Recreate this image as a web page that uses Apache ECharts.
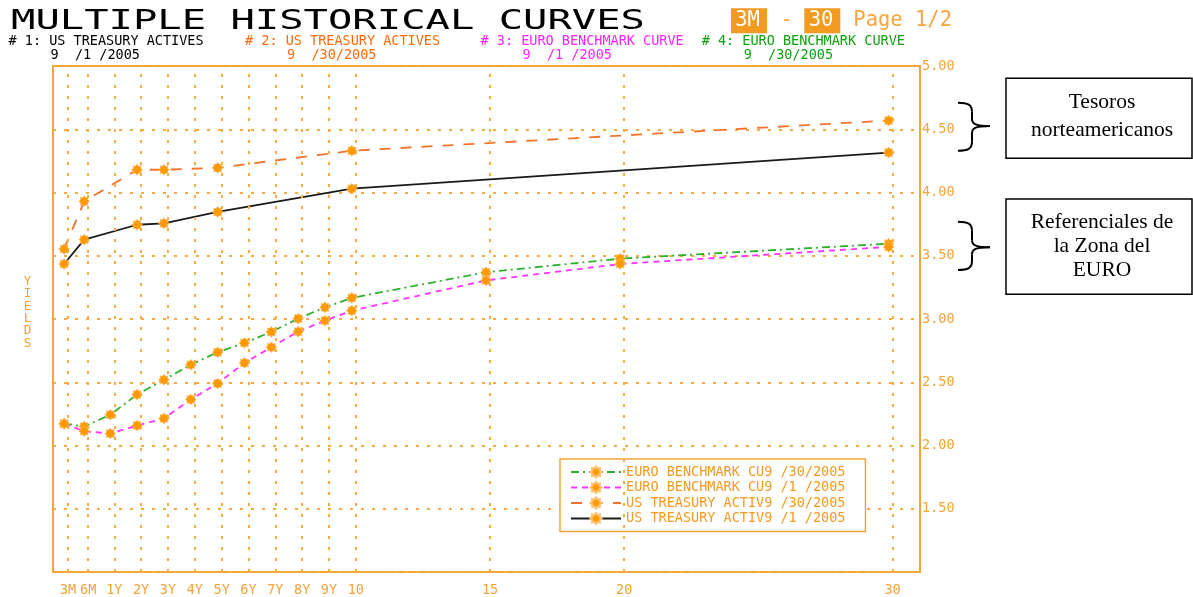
<!DOCTYPE html>
<html>
<head>
<meta charset="utf-8">
<script src="https://cdn.jsdelivr.net/npm/echarts@6/dist/echarts.min.js"></script>
<style>
html,body{margin:0;padding:0;background:#fff;}
#chart{width:1193px;height:597px;}
</style>
</head>
<body>
<div id="chart"></div>
<script>
// ---- data ----
const tenorLabels = ['3M','6M','1Y','2Y','3Y','4Y','5Y','6Y','7Y','8Y','9Y','10','15','20','30'];
const tenorPos    = [-0.72, 0.03, 1, 2, 3, 4, 5, 6, 7, 8, 9, 10, 15, 20, 30];
const usTsy0901   = [3.435, 3.627, null, 3.745, 3.756, null, 3.846, null, null, null, null, 4.03, null, null, 4.316];
const usTsy0930   = [3.553, 3.93, null, 4.18, 4.18, null, 4.195, null, null, null, null, 4.33, null, null, 4.569];
const euro0901    = [2.17, 2.113, 2.095, 2.158, 2.214, 2.364, 2.49, 2.653, 2.777, 2.90, 2.987, 3.066, 3.305, 3.435, 3.57];
const euro0930    = [2.174, 2.15, 2.243, 2.403, 2.52, 2.638, 2.737, 2.811, 2.898, 3.003, 3.092, 3.167, 3.37, 3.477, 3.595];
const seriesNames = ['EURO BENCHMARK CU9 /30/2005','EURO BENCHMARK CU9 /1 /2005','US TREASURY ACTIV9 /30/2005','US TREASURY ACTIV9 /1 /2005'];
const headerLabels = ['# 1: US TREASURY ACTIVES','# 2: US TREASURY ACTIVES','# 3: EURO BENCHMARK CURVE','# 4: EURO BENCHMARK CURVE'];
const headerDates  = ['9  /1 /2005','9  /30/2005','9  /1 /2005','9  /30/2005'];

// ---- styling ----
const MONO = '"DejaVu Sans Mono", monospace';
const ORANGE = '#f5a33a';
const GRIDC = '#f7ab45';
const headerColors = ['#000000','#ff6a10','#ff22ff','#10a010'];
const headerX = [8.5, 245, 480.5, 701.7];

function starPath(n, r1, r2){
  let d='';
  for(let i=0;i<2*n;i++){
    const a=Math.PI*i/n, r=(i%2)?r2:r1;
    d+=(i?'L':'M')+(50+50*r*Math.sin(a)).toFixed(1)+' '+(50-50*r*Math.cos(a)).toFixed(1)+' ';
  }
  return 'path://'+d+'Z';
}
const STAR = starPath(8, 1, 0.7);

function pairs(vals){
  return tenorPos.map((x,i)=> vals[i]==null ? null : [x, vals[i]]).filter(Boolean);
}

function brace(top, mid, bottom){
  const L=958, S=972, T=990, st={stroke:'#000', lineWidth:2, fill:'none'};
  return [
    {type:'bezierCurve', shape:{x1:L,y1:top,cpx1:L+10,cpy1:top,cpx2:S,cpy2:top+2,x2:S,y2:top+9}, style:st},
    {type:'line', shape:{x1:S,y1:top+9,x2:S,y2:mid-7}, style:st},
    {type:'bezierCurve', shape:{x1:S,y1:mid-7,cpx1:S,cpy1:mid-2,cpx2:S+4,cpy2:mid,x2:T,y2:mid}, style:st},
    {type:'bezierCurve', shape:{x1:T,y1:mid,cpx1:S+4,cpy1:mid,cpx2:S,cpy2:mid+2,x2:S,y2:mid+7}, style:st},
    {type:'line', shape:{x1:S,y1:mid+7,x2:S,y2:bottom-9}, style:st},
    {type:'bezierCurve', shape:{x1:S,y1:bottom-9,cpx1:S,cpy1:bottom-2,cpx2:L+10,cpy2:bottom,x2:L,y2:bottom}, style:st}
  ];
}

const graphics = [];
graphics.push({type:'text', x:11, y:22, scaleX:1.5, style:{text:'MULTIPLE HISTORICAL CURVES', font:'27px '+MONO, fill:'#000', verticalAlign:'middle'}});
headerLabels.forEach((t,i)=>{
  graphics.push({type:'text', x:headerX[i], y:41, style:{text:t, font:'13.5px '+MONO, fill:headerColors[i], verticalAlign:'middle'}});
  graphics.push({type:'text', x:headerX[i]+42, y:55.5, style:{text:headerDates[i], font:'13.5px '+MONO, fill:headerColors[i], verticalAlign:'middle'}});
});
graphics.push({type:'rect', shape:{x:731, y:8.3, width:36, height:25}, style:{fill:'#f39a21'}});
graphics.push({type:'text', x:747.5, y:21, style:{text:'3M', font:'20.5px '+MONO, fill:'#fff', align:'center', verticalAlign:'middle'}});
graphics.push({type:'text', x:786.7, y:21, style:{text:'-', font:'20.5px '+MONO, fill:'#f7a53e', align:'center', verticalAlign:'middle'}});
graphics.push({type:'rect', shape:{x:804.3, y:8.3, width:36, height:25}, style:{fill:'#f39a21'}});
graphics.push({type:'text', x:821, y:21, style:{text:'30', font:'20.5px '+MONO, fill:'#fff', align:'center', verticalAlign:'middle'}});
graphics.push({type:'text', x:853.3, y:21, style:{text:'Page 1/2', font:'20.5px '+MONO, fill:'#f7a53e', verticalAlign:'middle'}});
graphics.push({type:'text', x:27.5, y:312.5, style:{text:'Y\nI\nE\nL\nD\nS', font:'12.7px '+MONO, lineHeight:12.4, fill:ORANGE, align:'center', verticalAlign:'middle'}});
// annotations
graphics.push({type:'rect', shape:{x:1006, y:78.3, width:186, height:80}, style:{fill:'none', stroke:'#000', lineWidth:1.5}});
graphics.push({type:'rect', shape:{x:1006, y:199, width:186, height:95.3}, style:{fill:'none', stroke:'#000', lineWidth:1.5}});
[['Tesoros',109.3],['norteamericanos',136.7],['Referenciales de',229],['la Zona del',253.3],['EURO',276.7]].forEach(p=>{
  graphics.push({type:'text', x:1102, y:p[1]-6.5, style:{text:p[0], font:'21.5px "Liberation Serif"', fill:'#000', align:'center', verticalAlign:'middle'}});
});
brace(102.7,126,150.7).forEach(g=>graphics.push(g));
brace(221.7,247.3,270).forEach(g=>graphics.push(g));

const XMIN=-1.283, XMAX=31.02, SHIFT=0.15;

const chart = echarts.init(document.getElementById('chart'), null, {renderer:'canvas'});
chart.setOption({
  animation:false,
  backgroundColor:'#fff',
  grid:{left:53, right:273, top:66, bottom:24, show:true, borderColor:ORANGE, borderWidth:2, backgroundColor:'transparent'},
  xAxis:[{
    type:'value', min:XMIN, max:XMAX,
    axisLine:{show:false}, axisTick:{show:false}, splitLine:{show:false},
    axisLabel:{customValues:tenorPos, color:ORANGE, fontFamily:MONO, fontSize:13.5, margin:11,
      formatter:(v)=>{const i=tenorPos.indexOf(v); return i>=0?tenorLabels[i]:'';}}
  },{
    type:'value', min:XMIN+SHIFT, max:XMAX+SHIFT, show:false
  }],
  yAxis:{
    type:'value', position:'right', min:1, max:5, interval:0.5,
    axisLine:{show:false}, axisTick:{show:false},
    axisLabel:{showMinLabel:false, color:ORANGE, fontFamily:MONO, fontSize:13.5, margin:2, formatter:(v)=>v.toFixed(2)},
    splitLine:{show:true, lineStyle:{color:GRIDC, type:[3,8], width:2}}
  },
  legend:{
    data:seriesNames, orient:'vertical', left:560, top:459,
    backgroundColor:'#fff', borderColor:ORANGE, borderWidth:1.5, padding:[6,20,6,10],
    itemWidth:50, itemHeight:14, itemGap:1.5,
    textStyle:{color:'#f59a23', fontFamily:MONO, fontSize:13.5}
  },
  graphic:graphics,
  series:[
    {type:'line', xAxisIndex:0, data:[], z:1, silent:true,
      markLine:{silent:true, symbol:['none','none'], label:{show:false}, animation:false,
        lineStyle:{color:GRIDC, type:[3,8], width:2},
        emphasis:{disabled:true},
        data:tenorPos.map(v=>({xAxis:v}))}},
    {name:seriesNames[0], type:'line', xAxisIndex:1, data:pairs(euro0930), symbol:STAR, symbolSize:11,
      itemStyle:{color:'#ff9900', borderColor:'#ffc070', borderWidth:0.6}, lineStyle:{color:'#2fb02f', width:1.8, type:[8,4,2,4]}, z:3},
    {name:seriesNames[1], type:'line', xAxisIndex:1, data:pairs(euro0901), symbol:STAR, symbolSize:11,
      itemStyle:{color:'#ff9900', borderColor:'#ffc070', borderWidth:0.6}, lineStyle:{color:'#ff33ff', width:1.8, type:[6,5]}, z:3},
    {name:seriesNames[2], type:'line', xAxisIndex:1, data:pairs(usTsy0930), symbol:STAR, symbolSize:11,
      itemStyle:{color:'#ff9900', borderColor:'#ffc070', borderWidth:0.6}, lineStyle:{color:'#f4732a', width:1.8, type:[11,10]}, z:3},
    {name:seriesNames[3], type:'line', xAxisIndex:1, data:pairs(usTsy0901), symbol:STAR, symbolSize:11,
      itemStyle:{color:'#ff9900', borderColor:'#ffc070', borderWidth:0.6}, lineStyle:{color:'#1a1a1a', width:1.8, type:'solid'}, z:3}
  ]
});
</script>
</body>
</html>
